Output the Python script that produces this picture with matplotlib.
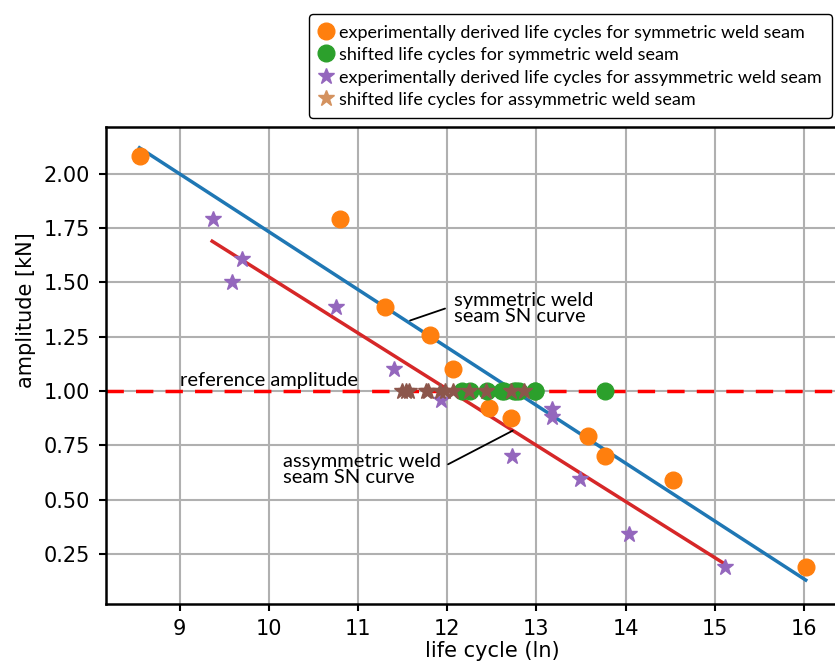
import matplotlib
matplotlib.use("Agg")
import matplotlib.pyplot as plt

# ── Data ──────────────────────────────────────────────────────────────────────
sym_x = [8.56, 10.80, 11.30, 11.81, 12.07, 12.47, 12.72, 13.58, 13.77, 14.53, 16.02]
sym_y = [2.08, 1.79, 1.385, 1.256, 1.10, 0.92, 0.878, 0.793, 0.70, 0.59, 0.19]

sym_shift_x = [12.17, 12.26, 12.45, 12.62, 12.64, 12.75, 12.77, 12.80, 12.98, 12.99, 13.77]
sym_shift_y = [1.0] * len(sym_shift_x)

asym_x = [9.37, 9.70, 9.585, 10.75, 11.40, 11.93, 13.18, 13.17, 12.73, 13.49, 14.04, 15.11]
asym_y = [1.79, 1.61, 1.504, 1.388, 1.10, 0.957, 0.917, 0.882, 0.70, 0.594, 0.342, 0.189]

asym_shift_x = [12.43, 12.06, 11.54, 12.25, 11.79, 11.76, 12.86, 12.71, 11.57, 11.92, 11.49, 11.97]
asym_shift_y = [1.0] * len(asym_shift_x)

sym_curve_x = [8.55, 16.02]
sym_curve_y = [2.12, 0.13]
asym_curve_x = [9.365, 15.09]
asym_curve_y = [1.69, 0.21]

ref_amplitude = 1.0

x_ticks = [9, 10, 11, 12, 13, 14, 15, 16]
y_ticks = [0.25, 0.5, 0.75, 1.0, 1.25, 1.5, 1.75, 2.0]

# ── Plot ──────────────────────────────────────────────────────────────────────
fig = plt.figure(figsize=(8.35, 6.64), dpi=100)
ax = fig.add_axes([0.1275, 0.0904, 0.877, 0.7184])

ax.grid(True, color="#b0b0b0", linewidth=1.5, zorder=0)
ax.set_axisbelow(True)

ax.plot(sym_curve_x, sym_curve_y, color="tab:blue", linewidth=2.5, zorder=2)
ax.plot(asym_curve_x, asym_curve_y, color="tab:red", linewidth=2.5, zorder=2)
ax.axhline(ref_amplitude, color="red", linestyle=(0, (5, 3.5)), linewidth=2.5, zorder=2)

h1, = ax.plot(sym_x, sym_y, "o", color="tab:orange", markersize=12, linestyle="none", zorder=3,
              label="experimentally derived life cycles for symmetric weld seam")
h2, = ax.plot(sym_shift_x, sym_shift_y, "o", color="tab:green", markersize=12, linestyle="none", zorder=3,
              label="shifted life cycles for symmetric weld seam")
h3, = ax.plot(asym_x, asym_y, "*", color="tab:purple", markersize=12, linestyle="none", zorder=4,
              label="experimentally derived life cycles for assymmetric weld seam")
h4, = ax.plot(asym_shift_x, asym_shift_y, "*", color="tab:brown", markersize=12, linestyle="none", zorder=4,
              label="shifted life cycles for assymmetric weld seam")

ax.set_xlim(8.18, 16.39)
ax.set_ylim(0.02, 2.216)
ax.set_xticks(x_ticks)
ax.set_yticks(y_ticks)
ax.tick_params(length=5, width=1.5, labelsize=15)
ax.tick_params(axis="y", pad=7)
ax.tick_params(axis="x", pad=6)
for sp in ax.spines.values():
    sp.set_linewidth(1.8)

ax.set_xlabel("life cycle (ln)", fontsize=15, labelpad=1)
ax.xaxis.label.set_x(0.527)
ax.set_ylabel("amplitude [kN]", fontsize=15, labelpad=5)
ax.yaxis.label.set_y(0.615)

anno_font = "Lato"
ax.text(9.01, 1.008, "reference amplitude", fontsize=14.5, family=anno_font,
        ha="left", va="bottom", zorder=5)

ax.text(12.08, 1.38, "symmetric weld\nseam SN curve", fontsize=14.5, family=anno_font,
        ha="left", va="center", linespacing=0.95)
ax.annotate("", xy=(11.584, 1.325), xytext=(11.976, 1.38),
            arrowprops=dict(arrowstyle="-", color="black", linewidth=1.3, shrinkA=0, shrinkB=0))

ax.text(10.16, 0.638, "assymmetric weld\nseam SN curve", fontsize=14.5, family=anno_font,
        ha="left", va="center", linespacing=0.95)
ax.annotate("", xy=(12.735, 0.818), xytext=(12.01, 0.663),
            arrowprops=dict(arrowstyle="-", color="black", linewidth=1.3, shrinkA=0, shrinkB=0))

leg = fig.legend(handles=[h1, h2, h3, h4], loc="upper right",
                 bbox_to_anchor=(0.996, 0.979), prop={"family": anno_font, "size": 13},
                 handlelength=0.7, handleheight=1.0, handletextpad=0.4, borderpad=0.55,
                 labelspacing=0.28, borderaxespad=0, fancybox=True, framealpha=1,
                 edgecolor="black")
leg.legend_handles[3].set_color("#d4925f")

fig.savefig("out.png", dpi=100)
